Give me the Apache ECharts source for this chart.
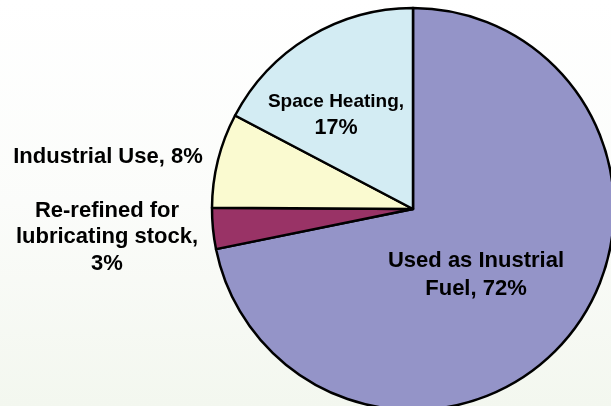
<!DOCTYPE html>
<html>
<head>
<meta charset="utf-8">
<script src="https://cdn.jsdelivr.net/npm/echarts@6/dist/echarts.min.js"></script>
<style>
html,body{margin:0;padding:0;}
#chart{width:611px;height:406px;}
</style>
</head>
<body>
<div id="chart"></div>
<script>
// Data
const categories = ['Used as Inustrial\nFuel', 'Re-refined for\nlubricating stock', 'Industrial Use', 'Space Heating'];
const values = [71.8, 3.3, 7.6, 17.3];
const shownPercent = [72, 3, 8, 17];
const labelSeparator = [' ', '\n', ' ', '\n'];
const colors = ['#9494c8', '#993366', '#fafad0', '#d3ecf3'];

// label anchor points and placement (layout only)
const labelPos = [[476, 275], [107, 237], [108, 157], [336, 115]];
const labelPlacement = ['inside', 'outside', 'outside', 'inside'];
const labelLineHeight = [28, 26.5, 26, 27];

const chart = echarts.init(document.getElementById('chart'));

const data = categories.map((name, i) => ({
  name: name,
  value: values[i],
  itemStyle: { color: colors[i] },
  label: { position: labelPlacement[i], lineHeight: labelLineHeight[i] }
}));

const FONT = 'Liberation Sans, Arial, sans-serif';

chart.setOption({
  backgroundColor: {
    type: 'linear', x: 0, y: 0, x2: 0, y2: 1,
    colorStops: [
      { offset: 0, color: '#ffffff' },
      { offset: 0.5, color: '#fbfcfa' },
      { offset: 1, color: '#f3f7ef' }
    ]
  },
  animation: false,
  series: [{
    type: 'pie',
    center: [413, 209],
    radius: 201,
    startAngle: 90,
    clockwise: true,
    avoidLabelOverlap: false,
    data: data,
    itemStyle: { borderColor: '#000000', borderWidth: 2.5 },
    label: {
      show: true,
      color: '#000000',
      fontFamily: FONT,
      fontWeight: 'bold',
      fontSize: 22,
      overflow: 'none',
      align: 'center',
      formatter: function (p) {
        const i = p.dataIndex;
        if (i === 3) {
          return '{a|' + categories[i] + ',}\n{b|' + shownPercent[i] + '%}';
        }
        return categories[i] + ',' + labelSeparator[i] + shownPercent[i] + '%';
      },
      rich: {
        a: { fontSize: 19, fontWeight: 'bold', fontFamily: FONT, color: '#000', lineHeight: 27, align: 'center' },
        b: { fontSize: 21.5, fontWeight: 'bold', fontFamily: FONT, color: '#000', lineHeight: 27, align: 'center' }
      }
    },
    labelLine: { show: false },
    labelLayout: function (params) {
      const pos = labelPos[params.dataIndex];
      return { x: pos[0], y: pos[1], align: 'center', verticalAlign: 'middle', hideOverlap: false };
    },
    emphasis: { disabled: true }
  }]
});
</script>
</body>
</html>
